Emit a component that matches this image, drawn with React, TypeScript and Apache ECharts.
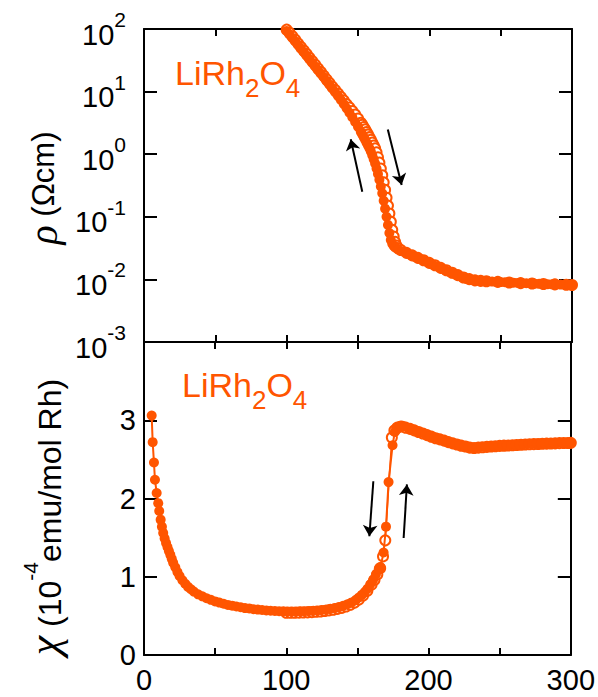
import React, { useEffect, useRef } from 'react';
import * as echarts from 'echarts';

const ORANGE = '#FF5500';
const FONT = "'Liberation Sans', Arial, sans-serif";

// Resistivity (Ohm cm) vs T (K)
const rhoCooling: [number, number][] = [
  [100, 93.3], [102, 81.8], [104, 71.8], [106, 63.1], [108, 55.3], [110, 48.5], [112, 42.6], [114, 37.3],
  [116, 32.7], [118, 28.7], [120, 25.1], [122, 22.0], [124, 19.3], [126, 16.9], [128, 14.7], [130, 12.9],
  [132, 11.2], [134, 9.77], [136, 8.49], [138, 7.35], [140, 6.31], [142, 5.41], [144, 4.6], [146, 3.89],
  [148, 3.27], [150, 2.74], [152, 2.26], [153, 2.07], [154, 1.87], [155, 1.7], [156, 1.53], [157, 1.38],
  [158, 1.24], [159, 1.1], [160, 0.962], [161, 0.832], [162, 0.708], [163, 0.589], [164, 0.484], [165, 0.389],
  [166, 0.305], [167, 0.237], [168, 0.18], [169, 0.135], [170, 0.1], [171, 0.0741], [172, 0.055], [173, 0.0427],
  [174, 0.0372], [175, 0.0343], [176, 0.0324], [178, 0.0302], [181, 0.0282], [184, 0.0263], [187, 0.0245],
  [190, 0.0229], [193, 0.0214], [196, 0.02], [199, 0.0187], [202, 0.0174], [205, 0.0162], [208, 0.0151],
  [211, 0.0141], [214, 0.0132], [217, 0.0123], [220, 0.0115], [223, 0.0108], [226, 0.0102], [229, 0.00988],
  [232, 0.00966], [235, 0.0095], [238, 0.00938], [241, 0.0093], [244, 0.00922], [247, 0.00914], [250, 0.00907],
  [253, 0.009], [256, 0.00893], [259, 0.00886], [262, 0.00879], [265, 0.00873], [268, 0.00867], [271, 0.00861],
  [274, 0.00855], [277, 0.00849], [280, 0.00845], [283, 0.0084], [286, 0.00835], [289, 0.0083], [292, 0.00826],
  [295, 0.00822], [298, 0.00818], [300, 0.00815],
];

const rhoHeating: [number, number][] = [
  [100, 97.7], [102, 87.1], [104, 76.7], [106, 67.3], [108, 59.0], [110, 51.8], [112, 45.4], [114, 39.8],
  [116, 34.9], [118, 30.6], [120, 26.9], [122, 23.4], [124, 20.6], [126, 18.0], [128, 15.7], [130, 13.8],
  [132, 12.0], [134, 10.6], [136, 9.33], [138, 8.24], [140, 7.24], [142, 6.31], [144, 5.57], [146, 4.9],
  [148, 4.31], [150, 3.72], [152, 3.18], [153, 2.95], [154, 2.71], [155, 2.49], [156, 2.26], [157, 2.07],
  [158, 1.87], [159, 1.7], [160, 1.53], [161, 1.38], [162, 1.24], [163, 1.07], [164, 0.891], [165, 0.733],
  [166, 0.589], [167, 0.462], [168, 0.355], [169, 0.269], [170, 0.201], [171, 0.151], [172, 0.113], [173, 0.0836],
  [174, 0.0619], [175, 0.0484], [176, 0.0398], [177, 0.0347], [178, 0.0316], [180, 0.0295], [184, 0.0265],
  [188, 0.0242], [192, 0.0221], [196, 0.0202], [200, 0.0184], [204, 0.0168], [208, 0.0153], [212, 0.014],
  [216, 0.0128], [220, 0.0117], [224, 0.0107], [228, 0.0101], [232, 0.00965], [236, 0.00946], [240, 0.00935],
  [248, 0.00914], [256, 0.00893], [264, 0.00873], [272, 0.0086], [280, 0.00846], [288, 0.00834], [296, 0.00822],
  [300, 0.00815],
];

// Susceptibility (1e-4 emu/mol Rh) vs T (K)
const chiCooling: [number, number][] = [
  [5.4, 3.06], [6.1, 2.72], [7.0, 2.46], [7.7, 2.24], [8.9, 2.07], [10.0, 1.94], [10.7, 1.84], [11.7, 1.73],
  [12.6, 1.64], [13.5, 1.56], [14.5, 1.49], [15.5, 1.43], [16.5, 1.38], [17.5, 1.33], [18.5, 1.28], [19.5, 1.23],
  [20.5, 1.18], [22, 1.12], [23.5, 1.06], [25, 1.01], [27, 0.955], [29, 0.91], [31, 0.87], [33, 0.84], [35, 0.81],
  [38, 0.775], [41, 0.75], [44, 0.725], [47, 0.705], [50, 0.685], [53, 0.67], [56, 0.655], [59, 0.64], [62, 0.63],
  [65, 0.62], [68, 0.61], [71, 0.6], [74, 0.595], [77, 0.585], [80, 0.58], [83, 0.575], [86, 0.57], [89, 0.565],
  [92, 0.562], [95, 0.56], [98, 0.558], [101, 0.557], [104, 0.557], [107, 0.557], [110, 0.558], [113, 0.56],
  [116, 0.562], [119, 0.566], [122, 0.57], [125, 0.575], [128, 0.582], [131, 0.59], [134, 0.6], [137, 0.612],
  [140, 0.628], [143, 0.648], [146, 0.672], [149, 0.705], [151, 0.735], [153, 0.765], [155, 0.8], [157, 0.845],
  [159, 0.9], [161, 0.96], [163, 1.03], [165, 1.1], [166.2, 1.12], [168.4, 1.31], [170.1, 1.64], [171.9, 2.21],
  [174.7, 2.68], [176.3, 2.85], [178, 2.91], [180, 2.93], [183, 2.92], [186, 2.9], [189, 2.88], [192, 2.86],
  [195, 2.84], [198, 2.82], [201, 2.8], [204, 2.78], [207, 2.76], [210, 2.745], [213, 2.73], [216, 2.71],
  [219, 2.695], [222, 2.68], [225, 2.67], [228, 2.655], [231, 2.65], [234, 2.655], [237, 2.66], [240, 2.662],
  [243, 2.665], [246, 2.67], [249, 2.673], [252, 2.676], [255, 2.68], [258, 2.683], [261, 2.686], [264, 2.69],
  [267, 2.693], [270, 2.696], [273, 2.698], [276, 2.7], [279, 2.702], [282, 2.704], [285, 2.706], [288, 2.708],
  [291, 2.71], [294, 2.712], [297, 2.713], [300, 2.715],
];

const chiHeating: [number, number][] = [
  [100, 0.54], [103, 0.54], [106, 0.54], [109, 0.541], [112, 0.543], [115, 0.545], [118, 0.548], [121, 0.552],
  [124, 0.556], [127, 0.562], [130, 0.57], [133, 0.578], [136, 0.59], [139, 0.603], [142, 0.62], [145, 0.642],
  [148, 0.67], [151, 0.71], [154, 0.76], [157, 0.82], [160, 0.9], [162, 0.96], [164, 1.03], [166, 1.11],
  [168, 1.26], [169.6, 1.465], [174.2, 2.78], [176, 2.87], [178, 2.905], [181, 2.92], [184, 2.905], [187, 2.89],
  [190, 2.87], [193, 2.85], [196, 2.83], [199, 2.81], [202, 2.79], [205, 2.77], [208, 2.755], [211, 2.74],
  [214, 2.72], [217, 2.705], [220, 2.69], [223, 2.675], [226, 2.665], [229, 2.65], [232, 2.645], [235, 2.65],
  [238, 2.655], [241, 2.66], [244, 2.665], [247, 2.668], [250, 2.672], [253, 2.675], [256, 2.678], [259, 2.681],
  [262, 2.684], [265, 2.687], [268, 2.69], [271, 2.693], [274, 2.695], [277, 2.697], [280, 2.699], [283, 2.701],
  [286, 2.703], [289, 2.705], [292, 2.707], [295, 2.709], [298, 2.71], [300, 2.711],
];

// Arrows (start -> end) in data coordinates
const rhoArrows: [number, number][][] = [
  [[153.0, 0.252], [144.9, 1.73]],
  [[170.9, 2.49], [180.6, 0.322]],
];
const chiArrows: [number, number][][] = [
  [[161.2, 2.22], [158.4, 1.517]],
  [[182.5, 1.496], [184.8, 2.18]],
];

const xLabelValues = [0, 100, 200, 300];
const chiLabelValues = [0, 1, 2, 3];

export default function App() {
  const ref = useRef<HTMLDivElement>(null);

  useEffect(() => {
    if (!ref.current) return;
    const chart = echarts.init(ref.current, undefined, { renderer: 'svg' });

    const lineStyle = { color: '#000', width: 2 };
    const xAxis = (gridIndex: number, position: string, showLabel: boolean) => ({
      type: 'value',
      gridIndex,
      position,
      min: 0,
      max: 300,
      interval: 50,
      axisLine: { show: true, onZero: false, lineStyle },
      axisTick: { show: true, inside: true, length: 7, lineStyle },
      splitLine: { show: false },
      axisLabel: showLabel
        ? {
            show: true,
            margin: 10,
            fontSize: 29,
            fontFamily: FONT,
            color: '#000',
            formatter: (v: number) => (xLabelValues.includes(v) ? String(v) : ''),
          }
        : { show: false },
    });

    const logLabelRich = {
      b: { fontSize: 29, lineHeight: 40, fontFamily: FONT, color: '#000', verticalAlign: 'bottom' },
      s: { fontSize: 21, lineHeight: 21, fontFamily: FONT, color: '#000', verticalAlign: 'top' },
    };

    const rhoAxis = (position: string, showLabel: boolean) => ({
      type: 'log',
      logBase: 10,
      gridIndex: 0,
      position,
      min: 0.001,
      max: 100,
      splitNumber: 5,
      axisLine: { show: true, onZero: false, lineStyle },
      axisTick: { show: true, inside: true, length: 13, lineStyle },
      minorTick: { show: false },
      splitLine: { show: false },
      axisLabel: showLabel
        ? {
            show: true,
            margin: 18,
            formatter: (v: number) => `{b|10}{s|${Math.round(Math.log10(v))}}`,
            rich: logLabelRich,
          }
        : { show: false },
    });

    const chiAxis = (position: string, showLabel: boolean) => ({
      type: 'value',
      gridIndex: 1,
      position,
      min: 0,
      max: 4,
      interval: 1,
      axisLine: { show: true, onZero: false, lineStyle },
      axisTick: { show: true, inside: true, length: 13, lineStyle },
      splitLine: { show: false },
      axisLabel: showLabel
        ? {
            show: true,
            margin: 8,
            fontSize: 29,
            fontFamily: FONT,
            color: '#000',
            formatter: (v: number) => (chiLabelValues.includes(v) ? String(v) : ''),
          }
        : { show: false },
    });

    const arrowLine = (arrows: [number, number][][]) => ({
      silent: true,
      symbol: ['none', 'arrow'],
      symbolSize: 11,
      label: { show: false },
      lineStyle: { color: '#000', width: 2, type: 'solid' },
      emphasis: { disabled: true },
      animation: false,
      data: arrows.map(([a, b]) => [{ coord: a }, { coord: b }]),
    });

    const openSeries = (data: [number, number][], xi: number, yi: number) => ({
      type: 'line',
      xAxisIndex: xi,
      yAxisIndex: yi,
      data,
      symbol: 'emptyCircle',
      symbolSize: 10,
      showAllSymbol: true,
      itemStyle: { color: ORANGE, borderColor: ORANGE, borderWidth: 1.5 },
      lineStyle: { color: ORANGE, width: 1.5 },
      emphasis: { disabled: true },
      z: 2,
    });

    const filledSeries = (data: [number, number][], xi: number, yi: number, arrows: [number, number][][]) => ({
      type: 'line',
      xAxisIndex: xi,
      yAxisIndex: yi,
      data,
      symbol: 'circle',
      symbolSize: 10,
      showAllSymbol: true,
      itemStyle: { color: ORANGE },
      lineStyle: { color: ORANGE, width: 2 },
      emphasis: { disabled: true },
      z: 3,
      markLine: arrowLine(arrows),
    });

    const subRich = (base: number, sub: number, pad: number) => ({
      b: { fontSize: base, lineHeight: base, fontFamily: FONT, fill: ORANGE, verticalAlign: 'top' },
      s: { fontSize: sub, lineHeight: sub, fontFamily: FONT, fill: ORANGE, verticalAlign: 'top', padding: [pad, 0, 0, 0] },
    });

    chart.setOption({
      animation: false,
      backgroundColor: '#fff',
      grid: [
        { left: 144, top: 29, width: 428, height: 313, containLabel: false },
        { left: 144, top: 342, width: 428, height: 313, containLabel: false },
      ],
      xAxis: [xAxis(0, 'bottom', false), xAxis(0, 'top', false), xAxis(1, 'bottom', true), xAxis(1, 'top', false)],
      yAxis: [rhoAxis('left', true), rhoAxis('right', false), chiAxis('left', true), chiAxis('right', false)],
      series: [
        openSeries(rhoHeating, 0, 0),
        filledSeries(rhoCooling, 0, 0, rhoArrows),
        openSeries(chiHeating, 2, 2),
        filledSeries(chiCooling, 2, 2, chiArrows),
      ],
      graphic: [
        {
          type: 'text',
          left: 175,
          top: 56,
          style: { text: '{b|LiRh}{s|2}{b|O}{s|4}', rich: subRich(34, 26, 19) },
        },
        {
          type: 'text',
          left: 182,
          top: 368,
          style: { text: '{b|LiRh}{s|2}{b|O}{s|4}', rich: subRich(34, 26, 19) },
        },
        {
          type: 'text',
          x: 43,
          y: 188,
          rotation: Math.PI / 2,
          style: {
            text: '{r|ρ}{t| (Ωcm)}',
            align: 'center',
            verticalAlign: 'middle',
            rich: {
              r: { fontSize: 40, lineHeight: 40, fontStyle: 'italic', fontFamily: "'Liberation Serif', serif", fill: '#000' },
              t: { fontSize: 31, lineHeight: 31, fontFamily: FONT, fill: '#000' },
            },
          },
        },
        {
          type: 'text',
          x: 43,
          y: 517,
          rotation: Math.PI / 2,
          style: {
            text: '{g|χ}{t| (10}{s|-4}{t|emu/mol Rh)}',
            align: 'center',
            verticalAlign: 'middle',
            rich: {
              g: { fontSize: 44, lineHeight: 44, fontStyle: 'italic', fontFamily: "'Liberation Serif', serif", fill: '#000', verticalAlign: 'bottom' },
              t: { fontSize: 32, lineHeight: 46, fontFamily: FONT, fill: '#000', verticalAlign: 'bottom' },
              s: { fontSize: 21, lineHeight: 21, fontFamily: FONT, fill: '#000', verticalAlign: 'top' },
            },
          },
        },
      ],
    });

    return () => chart.dispose();
  }, []);

  return <div ref={ref} style={{ position: 'fixed', left: 0, top: 0, width: 598, height: 697 }} />;
}
